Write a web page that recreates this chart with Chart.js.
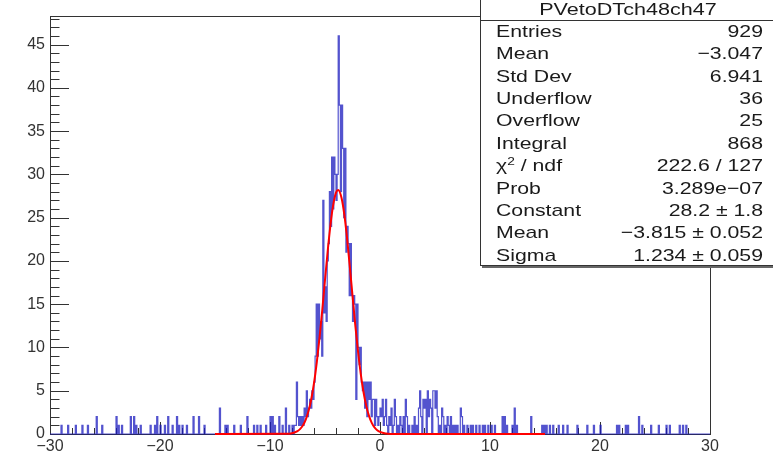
<!DOCTYPE html>
<html>
<head>
<meta charset="utf-8">
<script src="https://cdn.jsdelivr.net/npm/chart.js@4.4.1/dist/chart.umd.min.js"></script>
<style>
  body { margin: 0; background: #fff; }
  #wrap { position: relative; width: 773px; height: 461px; overflow: hidden; }
  #stats {
    position: absolute; left: 480px; top: -2px; width: 294px; height: 266px;
    border: 1px solid #333; background: #fff; box-shadow: 2px 2px 0 #666;
    font-family: "Liberation Sans", Arial, sans-serif; font-size: 17px; color: #1a1a1a;
  }
  #stats .title { position: absolute; left: 0; top: 0px; width: 100%; text-align: center; line-height: 22px;
    transform: scaleX(1.27); transform-origin: 147px 0; }
  #stats .sep { position: absolute; left: 0; top: 21px; width: 100%; border-top: 1px solid #333; }
  #stats .lab { position: absolute; left: 15px; line-height: 22px; white-space: nowrap;
    transform: scaleX(1.25); transform-origin: 0 0; }
  #stats .val { position: absolute; left: 0; width: 282px; text-align: right; line-height: 22px; white-space: nowrap;
    transform: scaleX(1.25); transform-origin: 282px 0; }
  #stats sup { font-size: 11px; line-height: 0; vertical-align: 6px; }
</style>
</head>
<body>
<div id="wrap">
  <canvas id="histo" width="773" height="461"></canvas>
  <div id="stats"></div>
</div>
<script>
// histogramme PVetoDTch48ch47, bins de 0.1 entre -30 et 30
const BIN_W = 0.1;
const X_MIN = -30, X_MAX = 30;

// bins du pic, de -8.0 a -0.1
const peakStart = -8.0;
const peakCounts = [
  1, 0, 1, 1, 6, 2, 1, 2, 1, 2,
  1, 3, 2, 5, 2, 3, 4, 3, 5, 4,
  6, 9, 15, 9, 15, 11, 13, 9, 27, 14,
  17, 13, 20, 22, 28, 24, 32, 26, 32, 30,
  27, 30, 46, 38, 28, 38, 33, 25, 33, 21,
  24, 22, 16, 22, 16, 13, 16, 15, 4, 15,
  10, 8, 10, 6, 5, 6, 3, 6, 2, 6,
  4, 6, 2, 4, 4, 1, 4, 2, 1, 2
];

// queue gauche (bord bas du bin, contenu)
const leftLo = [-29.0, -28.4, -27.7, -27.1, -26.6, -25.8, -25.3, -24.0, -23.8, -23.5,
  -22.7, -22.4, -22.2, -21.8, -20.9, -20.5, -20.3, -20.0, -19.6, -19.3,
  -18.9, -18.5, -18.3, -18.0, -17.6, -17.0, -16.5, -16.0, -14.6, -14.1,
  -13.9, -13.3, -12.7, -12.1, -11.5, -11.2, -10.9, -10.4, -10.0, -9.8,
  -9.6, -9.2, -8.9, -8.6, -8.3];
const leftCount = [1, 1, 1, 1, 1, 2, 1, 2, 1, 1,
  2, 2, 1, 1, 1, 1, 2, 1, 1, 2,
  1, 2, 1, 1, 1, 2, 2, 1, 3, 1,
  1, 1, 1, 2, 1, 1, 1, 1, 2, 2,
  1, 2, 1, 3, 1];

// queue droite
const rightLo = [0.0, 0.1, 0.2, 0.3, 0.4, 0.5, 0.6, 0.8, 0.9,
  1.0, 1.2, 1.3, 1.4, 1.6, 1.8, 1.9,
  2.1, 2.3, 2.4, 2.6, 2.9,
  3.1, 3.3, 3.5, 3.6, 3.7, 3.9,
  4.0, 4.1, 4.3, 4.4, 4.5, 4.6, 4.8, 4.9,
  5.0, 5.1, 5.2, 5.4, 5.6, 5.7, 5.9,
  6.1, 6.2, 6.4, 6.6, 6.8,
  7.0, 7.3, 7.4, 7.6, 7.9,
  8.2, 8.4, 8.7, 9.0, 9.3, 9.5, 9.8, 10.1, 10.4,
  11.1, 11.3, 11.5, 12.0, 12.2, 12.4, 13.7, 14.7, 14.9,
  15.1, 15.4, 15.7, 16.2, 16.6, 17.0, 17.9, 18.8, 19.4, 20.0,
  21.5, 21.7, 22.3, 22.5, 23.5, 23.8, 24.6, 25.3, 26.0, 26.3,
  27.2, 27.5, 27.8];
const rightCount = [3, 2, 4, 1, 2, 4, 1, 2, 1,
  3, 1, 4, 2, 1, 2, 1,
  2, 4, 2, 1, 1,
  2, 1, 3, 5, 2, 4,
  3, 4, 5, 2, 4, 3, 5, 5,
  3, 5, 2, 1, 3, 2, 1,
  2, 1, 2, 1, 1,
  1, 3, 2, 1, 1,
  1, 1, 1, 1, 1, 1, 1, 1, 1,
  2, 2, 1, 1, 3, 1, 2, 1, 1,
  1, 1, 1, 1, 1, 1, 1, 1, 1, 1,
  1, 1, 1, 1, 2, 1, 1, 1, 1, 1,
  1, 1, 1];

// ajustement gaussien (courbe rouge)
const fitX = [-15, -8.5, -8, -7.5, -7.25, -7, -6.75, -6.5, -6.25, -6,
  -5.75, -5.5, -5.25, -5, -4.75, -4.5, -4.25, -4, -3.8, -3.5,
  -3.25, -3, -2.75, -2.5, -2.25, -2, -1.75, -1.5, -1.25, -1,
  -0.75, -0.5, -0.25, 0, 0.5, 1, 15];
const fitY = [0, 0.02, 0.09, 0.33, 0.59, 1.0, 1.67, 2.65, 4.02, 5.87,
  8.25, 11.1, 14.3, 17.8, 21.2, 24.2, 26.5, 27.9, 28.2, 27.3,
  25.4, 22.7, 19.4, 16.0, 12.6, 9.56, 6.96, 4.85, 3.25, 2.09,
  1.29, 0.76, 0.43, 0.24, 0.06, 0.01, 0];

const xTicks = [-30, -20, -10, 0, 10, 20, 30];
const yTicks = [0, 5, 10, 15, 20, 25, 30, 35, 40, 45];
const Y_MAX = 48.3;

const statTitle = 'PVetoDTch48ch47';
const statLabels = ['Entries', 'Mean', 'Std Dev', 'Underflow', 'Overflow', 'Integral',
  'χ<sup>2</sup> / ndf', 'Prob', 'Constant', 'Mean', 'Sigma'];
const statValues = ['929', '−3.047', '6.941', '36', '25', '868', '222.6 / 127',
  '3.289e−07', '28.2 ± 1.8', '−3.815 ± 0.052', '1.234 ± 0.059'];

// construction du tableau complet des bins
const nBins = Math.round((X_MAX - X_MIN) / BIN_W);
const counts = new Array(nBins).fill(0);
function binIndex(lo) { return Math.round((lo - X_MIN) / BIN_W); }
peakCounts.forEach((c, i) => { counts[binIndex(peakStart) + i] = c; });
leftLo.forEach((lo, i) => { counts[binIndex(lo)] = leftCount[i]; });
rightLo.forEach((lo, i) => { counts[binIndex(lo)] = rightCount[i]; });

const histPoints = counts.map((c, i) => ({ x: X_MIN + i * BIN_W, y: c }));
histPoints.push({ x: X_MAX, y: 0 });
const fitPoints = fitX.map((x, i) => ({ x: x, y: fitY[i] }));

function fmt(v) {
  return v < 0 ? '\u2212' + Math.abs(v) : String(v);
}

// cadre et graduations a la ROOT (vers l'interieur)
const rootFrame = {
  id: 'rootFrame',
  beforeDatasetsDraw(chart) {
    const { ctx, chartArea: a, scales: { x, y } } = chart;
    ctx.save();
    ctx.strokeStyle = '#333';
    ctx.lineWidth = 1;
    ctx.strokeRect(a.left + 0.5, a.top + 0.5, a.right - a.left, a.bottom - a.top);
    ctx.beginPath();
    for (let v = 0; v <= 48; v++) {
      const py = Math.round(y.getPixelForValue(v)) + 0.5;
      const len = v % 5 === 0 ? 19 : 9.5;
      ctx.moveTo(a.left, py);
      ctx.lineTo(a.left + len, py);
    }
    for (let v = X_MIN; v <= X_MAX; v += 2) {
      const px = Math.round(x.getPixelForValue(v)) + 0.5;
      const len = v % 10 === 0 ? 12 : 6;
      ctx.moveTo(px, a.bottom);
      ctx.lineTo(px, a.bottom - len);
    }
    ctx.stroke();
    ctx.restore();
  }
};

const tickFont = { family: '"Liberation Sans", Arial, sans-serif', size: 16 };

new Chart(document.getElementById('histo').getContext('2d'), {
  type: 'line',
  data: {
    datasets: [
      {
        label: 'gaus',
        data: fitPoints,
        borderColor: '#ff0000',
        borderWidth: 2,
        pointRadius: 0,
        cubicInterpolationMode: 'monotone',
        clip: 3,
        order: 0
      },
      {
        label: statTitle,
        data: histPoints,
        borderColor: 'rgba(25, 25, 190, 0.75)',
        borderWidth: 1.2,
        pointRadius: 0,
        stepped: true,
        clip: 2,
        order: 1
      }
    ]
  },
  options: {
    responsive: false,
    animation: false,
    devicePixelRatio: 1,
    layout: { padding: { left: 0, right: 63, top: 16, bottom: 0 } },
    plugins: { legend: { display: false }, tooltip: { enabled: false } },
    scales: {
      x: {
        type: 'linear',
        min: X_MIN,
        max: X_MAX,
        afterBuildTicks: s => { s.ticks = xTicks.map(v => ({ value: v })); },
        afterFit: s => { s.height = 27; },
        grid: { display: false, drawTicks: false },
        border: { display: false },
        ticks: { padding: 3, font: tickFont, color: '#333', maxRotation: 0, autoSkip: false, callback: fmt }
      },
      y: {
        type: 'linear',
        min: 0,
        max: Y_MAX,
        afterBuildTicks: s => { s.ticks = yTicks.map(v => ({ value: v })); },
        afterFit: s => { s.width = 50; },
        grid: { display: false, drawTicks: false },
        border: { display: false },
        ticks: { padding: 5, font: tickFont, color: '#333', callback: fmt }
      }
    }
  },
  plugins: [rootFrame]
});

// boite de statistiques
const stats = document.getElementById('stats');
let html = '<div class="title">' + statTitle + '</div><div class="sep"></div>';
statLabels.forEach((lab, i) => {
  const top = 31.7 + i * 22.4 - 10;
  html += '<div class="lab" style="top:' + top + 'px">' + lab + '</div>';
  html += '<div class="val" style="top:' + top + 'px">' + statValues[i] + '</div>';
});
stats.innerHTML = html;
</script>
</body>
</html>
